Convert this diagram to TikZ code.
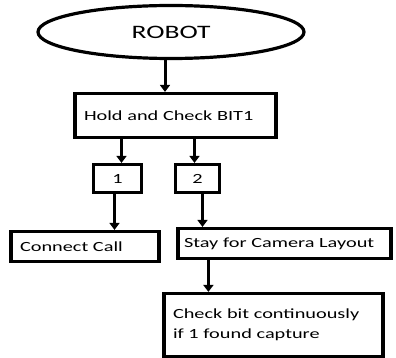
\documentclass[tikz,border=0pt]{standalone}
\usepackage{fontspec}
\newfontfamily\boxfont[FakeStretch=1.45]{Carlito}
\usetikzlibrary{arrows.meta,shapes.geometric}

\begin{document}
\begin{tikzpicture}[x=1pt, y=-1pt,
        box/.style={draw, line width=3.2pt, rectangle, align=left, inner xsep=9pt,
            font=\boxfont\fontsize{14}{20}\selectfont},
        num/.style={draw, line width=3.2pt, rectangle, inner sep=0pt,
            font=\boxfont\fontsize{14}{16}\selectfont},
        flow/.style={line width=3pt, -{Triangle[length=7pt,width=10pt]}}]

        \useasboundingbox (0,0) rectangle (396,358);

        \node[draw, ellipse, line width=3.2pt, minimum width=266pt, minimum height=53pt,
            font=\boxfont\fontsize{19}{22}\selectfont] (robot) at (171,32) {ROBOT};

        \node[box, text width=183pt, minimum height=44pt] (hold) at (175.5,115.5) {Hold and Check BIT1\\[6pt]};

        \node[num, minimum width=48pt, minimum height=28pt] (one) at (117.5,178.5) {1};
        \node[num, minimum width=44pt, minimum height=28pt] (two) at (197.5,178.5) {2};

        \node[box, text width=130pt, minimum height=30pt] (call) at (85,246.5) {Connect Call};
        \node[box, inner xsep=6pt, text width=201pt, minimum height=30pt] (stay) at (284.5,243.5) {Stay for Camera Layout};

        \node[box, text width=201pt, minimum height=63pt] (check) at (273.5,325) {Check bit continuously\\if 1 found capture\\[8pt]};

        \draw[flow] ([xshift=-6pt]robot.south) -- ([xshift=-6pt]robot.south |- hold.north);
        \draw[flow] ([xshift=4pt]one.north |- hold.south) -- ([xshift=4pt]one.north);
        \draw[flow] ([xshift=-3pt]two.north |- hold.south) -- ([xshift=-3pt]two.north);
        \draw[flow] ([xshift=-3pt]one.south) -- ([xshift=-3pt]one.south |- call.north);
        \draw[flow] ([xshift=5pt]two.south) -- ([xshift=5pt]two.south |- stay.north);
        \draw[flow] ([xshift=32pt]stay.south west) -- ([xshift=32pt]stay.south west |- check.north);

    \end{tikzpicture}
\end{document}
